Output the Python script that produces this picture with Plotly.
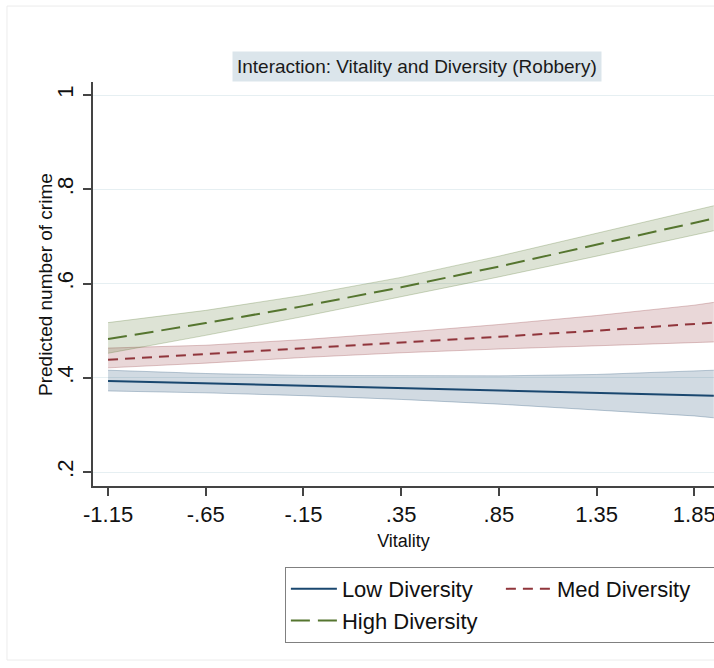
import plotly.graph_objects as go

# Predicted robbery counts across vitality, by diversity level (with 95% CIs)
vitality = [-1.15, -0.65, -0.15, 0.35, 0.85, 1.35, 1.85, 1.95]

low_mean = [0.393, 0.388, 0.383, 0.378, 0.373, 0.368, 0.363, 0.362]
low_lo = [0.372, 0.368, 0.362, 0.354, 0.344, 0.332, 0.319, 0.315]
low_hi = [0.416, 0.409, 0.405, 0.404, 0.404, 0.407, 0.414, 0.416]

med_mean = [0.438, 0.450, 0.462, 0.474, 0.487, 0.500, 0.514, 0.517]
med_lo = [0.421, 0.431, 0.443, 0.453, 0.461, 0.468, 0.474, 0.476]
med_hi = [0.463, 0.469, 0.481, 0.496, 0.513, 0.532, 0.554, 0.560]

high_mean = [0.482, 0.516, 0.552, 0.592, 0.636, 0.682, 0.728, 0.738]
high_lo = [0.452, 0.490, 0.530, 0.572, 0.614, 0.658, 0.702, 0.712]
high_hi = [0.517, 0.543, 0.575, 0.613, 0.658, 0.707, 0.755, 0.765]

x_tickvals = [-1.15, -0.65, -0.15, 0.35, 0.85, 1.35, 1.85]
x_ticktext = ["-1.15", "-.65", "-.15", ".35", ".85", "1.35", "1.85"]
y_tickvals = [0.2, 0.4, 0.6, 0.8, 1.0]
y_ticktext = [".2", ".4", ".6", ".8", "1"]

series = [
    ("Low Diversity", low_mean, low_lo, low_hi, (26, 71, 111), "solid"),
    ("Med Diversity", med_mean, med_lo, med_hi, (144, 53, 59), "10px,7px"),
    ("High Diversity", high_mean, high_lo, high_hi, (85, 117, 47), "19px,8px"),
]

fig = go.Figure()

# confidence bands first, drawn under the lines
for name, mean, lo, hi, (r, g, b), dash in series:
    edge = f"rgba({r},{g},{b},0.28)"
    fill = f"rgba({r},{g},{b},0.2)"
    fig.add_trace(go.Scatter(x=vitality, y=hi, mode="lines",
                             line=dict(color=edge, width=1),
                             showlegend=False, hoverinfo="skip"))
    fig.add_trace(go.Scatter(x=vitality, y=lo, mode="lines",
                             line=dict(color=edge, width=1),
                             fill="tonexty", fillcolor=fill,
                             showlegend=False, hoverinfo="skip"))

for name, mean, lo, hi, (r, g, b), dash in series:
    fig.add_trace(go.Scatter(x=vitality, y=mean, mode="lines", name=name,
                             line=dict(color=f"rgb({r},{g},{b})", width=2, dash=dash)))

fig.add_annotation(
    text="Interaction: Vitality and Diversity (Robbery)",
    xref="paper", yref="paper", x=0.5217, y=1.038,
    xanchor="center", yanchor="middle", showarrow=False,
    font=dict(family="Arial, Liberation Sans", size=19, color="#1a1a1a"),
    bgcolor="#dbe5eb", borderpad=4,
)

# y axis title, rotated
fig.add_annotation(
    text="Predicted number of crime",
    xref="paper", yref="paper", x=-0.0773, y=0.5,
    xanchor="center", yanchor="middle", textangle=-90, showarrow=False,
    font=dict(family="Arial, Liberation Sans", size=19, color="#111111"),
)

# faint outer frame of the graph region
fig.add_shape(type="rect", xref="paper", yref="paper",
              x0=-0.1385, x1=1.2, y0=-0.4307, y1=1.188,
              line=dict(color="#ececec", width=1), layer="below")

fig.update_layout(
    width=714, height=668,
    margin=dict(l=93, r=0, t=82, b=182, autoexpand=False),
    paper_bgcolor="white", plot_bgcolor="white",
    font=dict(family="Arial, Liberation Sans", color="#111111"),
    legend=dict(
        orientation="h", traceorder="normal",
        x=0.309, y=-0.2005, xanchor="left", yanchor="top",
        itemwidth=46, entrywidth=154,
        bgcolor="white", bordercolor="#808080", borderwidth=1,
        font=dict(size=22, color="#111111"),
    ),
)

fig.update_xaxes(
    range=[-1.227, 1.951], tickvals=x_tickvals, ticktext=x_ticktext,
    showgrid=False, zeroline=False, showline=True, linecolor="#444444", linewidth=1.5,
    ticks="outside", ticklen=8, tickwidth=1.5, tickcolor="#444444",
    tickfont=dict(size=22, color="#111111"), ticklabelstandoff=0,
    ticklabeloverflow="allow",
    title=dict(text="Vitality", font=dict(size=18, color="#111111"), standoff=8),
)
fig.update_yaxes(
    range=[0.1703, 1.0276], tickvals=y_tickvals, ticktext=y_ticktext,
    showgrid=True, gridcolor="#e6eff2", gridwidth=1, zeroline=False,
    showline=True, linecolor="#444444", linewidth=1.5,
    ticks="outside", ticklen=8, tickwidth=1.5, tickcolor="#444444",
    tickangle=-90, tickfont=dict(size=22, color="#111111"), ticklabelstandoff=1,
)

fig.write_html("out.html")
